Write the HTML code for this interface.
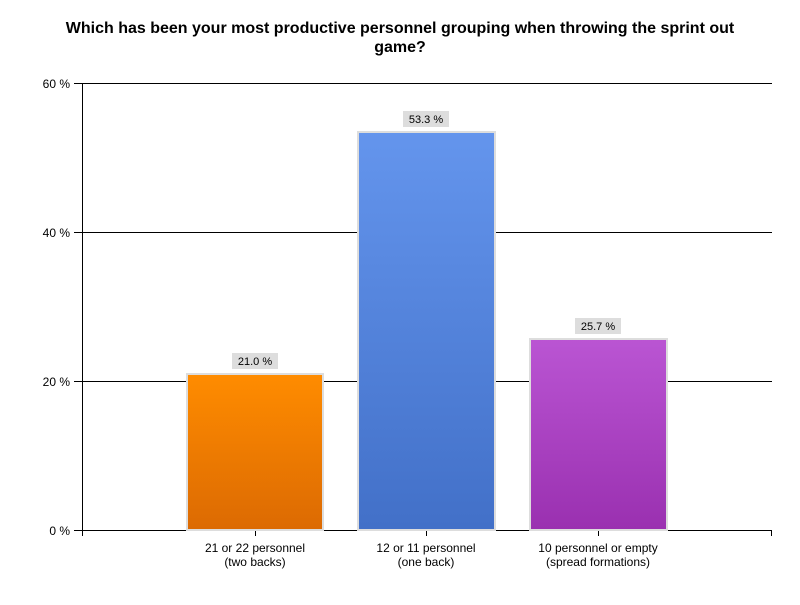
<!DOCTYPE html><html><head><style>body{margin:0;background:#fff}</style></head><body>
<svg width="800" height="600" xmlns="http://www.w3.org/2000/svg" font-family="Liberation Sans, sans-serif">
<defs>
<linearGradient id="o" x1="0" y1="0" x2="0" y2="1"><stop offset="0" stop-color="#ff8c00"/><stop offset="1" stop-color="#dc6a02"/></linearGradient>
<linearGradient id="b" x1="0" y1="0" x2="0" y2="1"><stop offset="0" stop-color="#6495ed"/><stop offset="1" stop-color="#4270c8"/></linearGradient>
<linearGradient id="p" x1="0" y1="0" x2="0" y2="1"><stop offset="0" stop-color="#ba55d3"/><stop offset="1" stop-color="#9a30b0"/></linearGradient>
</defs>
<text x="400" y="33" text-anchor="middle" font-size="16" font-weight="bold">Which has been your most productive personnel grouping when throwing the sprint out</text>
<text x="400" y="52" text-anchor="middle" font-size="16" font-weight="bold">game?</text>
<g stroke="#000" stroke-width="1">
<line x1="74" y1="83.5" x2="772" y2="83.5"/>
<line x1="74" y1="232.5" x2="772" y2="232.5"/>
<line x1="74" y1="381.5" x2="772" y2="381.5"/>
<line x1="74" y1="530.5" x2="772" y2="530.5"/>
<line x1="82.5" y1="83" x2="82.5" y2="536"/>
<line x1="255.5" y1="530" x2="255.5" y2="536"/>
<line x1="426.5" y1="530" x2="426.5" y2="536"/>
<line x1="598.5" y1="530" x2="598.5" y2="536"/>
<line x1="771.5" y1="530" x2="771.5" y2="536"/>
</g>
<g font-size="12" text-anchor="end">
<text x="70" y="88">60 %</text><text x="70" y="237">40 %</text><text x="70" y="386">20 %</text><text x="70" y="535">0 %</text>
</g>
<rect x="187" y="374" width="136" height="156" fill="url(#o)" stroke="#ddd" stroke-width="2"/>
<rect x="358" y="132" width="137" height="398" fill="url(#b)" stroke="#ddd" stroke-width="2"/>
<rect x="530" y="339" width="137" height="191" fill="url(#p)" stroke="#ddd" stroke-width="2"/>
<g font-size="11" text-anchor="middle">
<rect x="232" y="353" width="46" height="16" fill="#ddd"/><text x="255" y="365">21.0 %</text>
<rect x="403" y="111" width="46" height="16" fill="#ddd"/><text x="426" y="123">53.3 %</text>
<rect x="575" y="318" width="46" height="16" fill="#ddd"/><text x="598" y="330">25.7 %</text>
</g>
<g font-size="12" text-anchor="middle">
<text x="255" y="552">21 or 22 personnel</text><text x="255" y="566">(two backs)</text>
<text x="426" y="552">12 or 11 personnel</text><text x="426" y="566">(one back)</text>
<text x="598" y="552">10 personnel or empty</text><text x="598" y="566">(spread formations)</text>
</g>
</svg>
</body></html>
